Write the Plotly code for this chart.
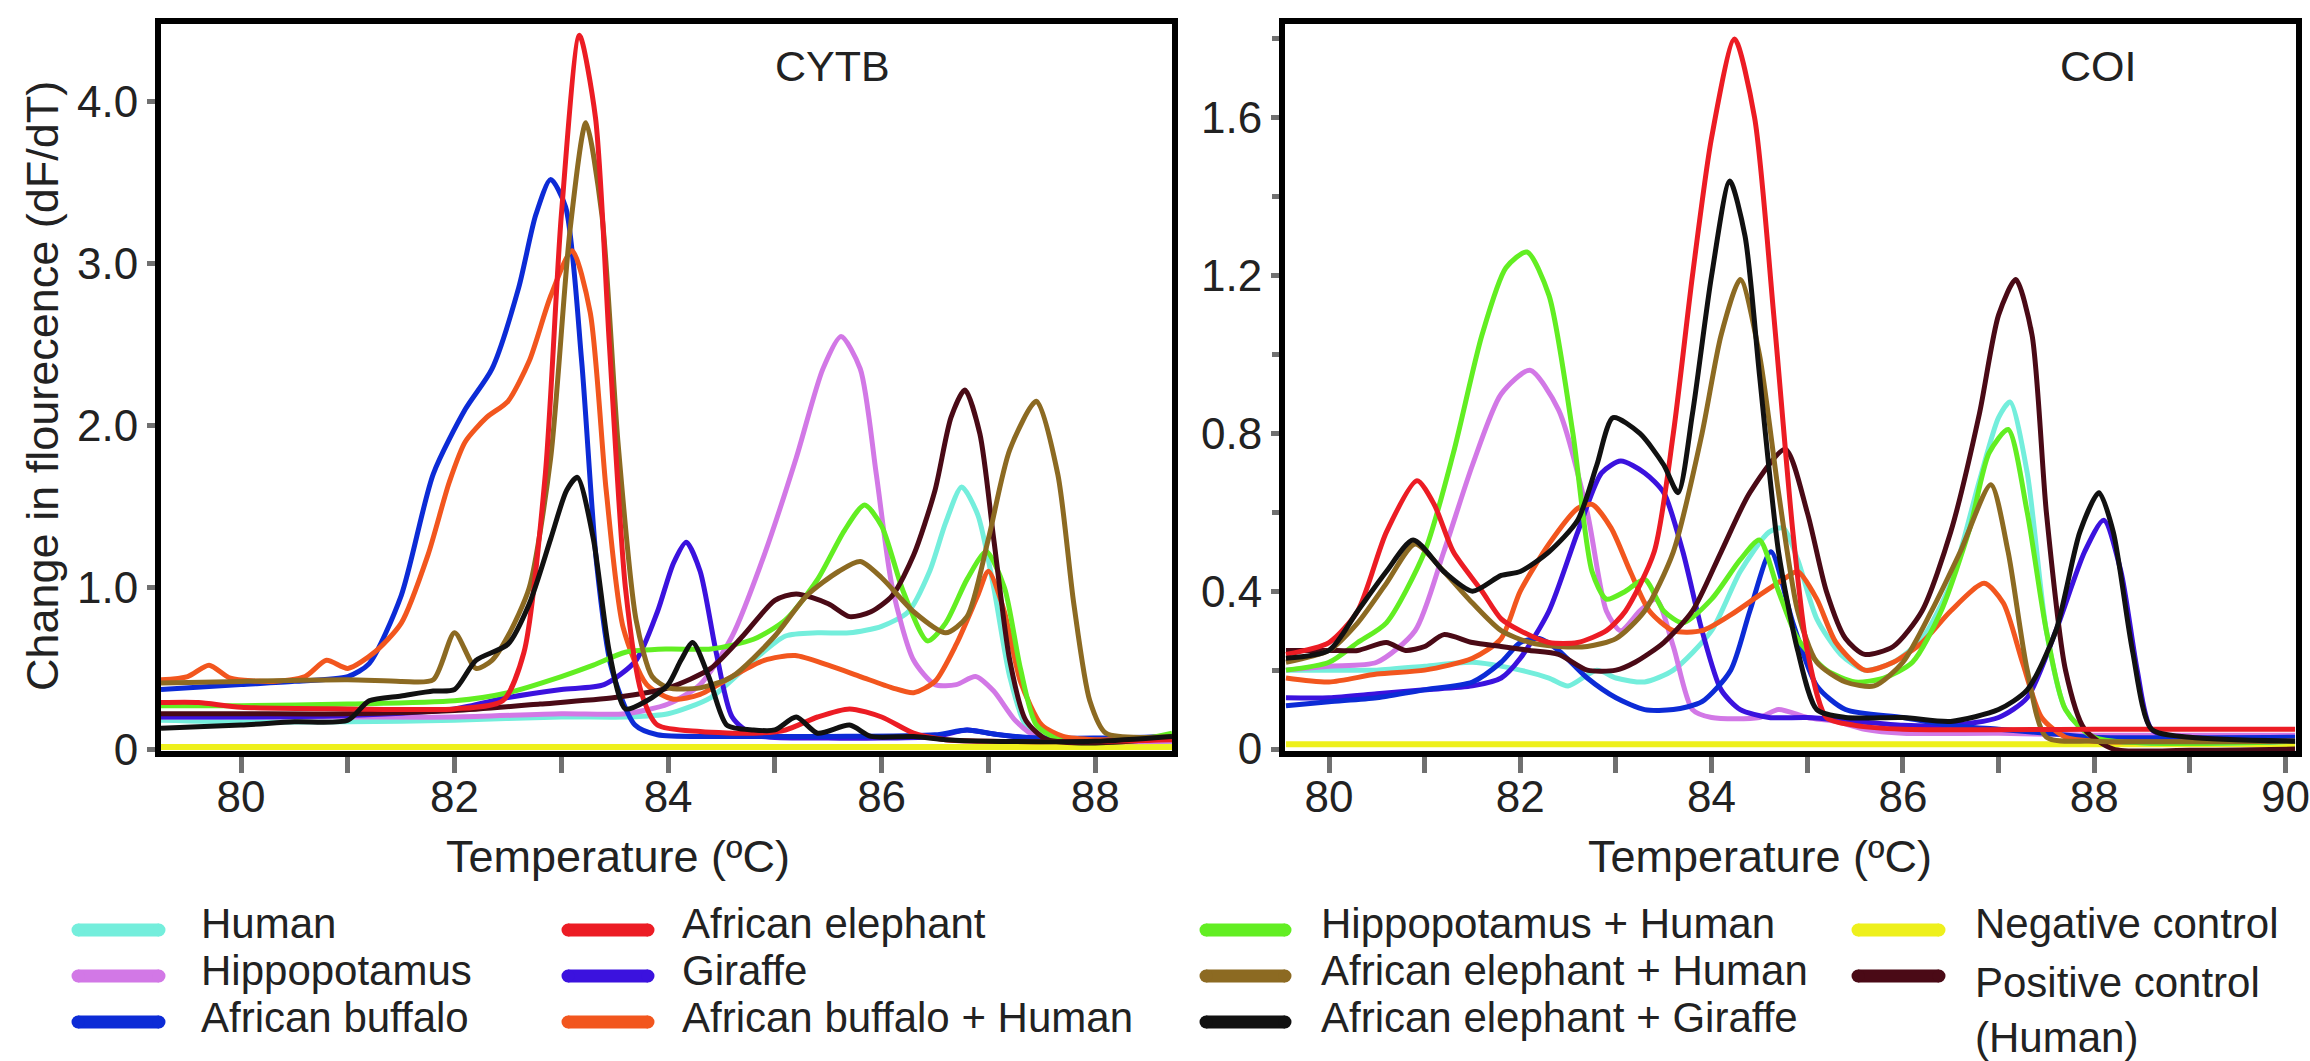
import plotly.graph_objects as go

W, H = 2310, 1061
FONT = "Liberation Sans, Arial, Helvetica, sans-serif"

# ---------------- data ----------------
SERIES = ["Human", "Hippopotamus", "African buffalo", "African elephant", "Giraffe",
          "African buffalo + Human", "Hippopotamus + Human", "African elephant + Human",
          "African elephant + Giraffe", "Negative control", "Positive control<br>(Human)"]
COLORS = ["#74EEDC", "#D278E6", "#0C2BD6", "#EC1C24", "#3B12DE", "#F2561E",
          "#62EE22", "#8C6A22", "#111111", "#EEF01C", "#4A0A16"]

# CYTB panel (temperature, dF/dT)
cytb_human = [(79.25, 0.18), (80, 0.17), (81, 0.17), (82, 0.18), (83, 0.2), (83.6, 0.2), (84, 0.22),
              (84.4, 0.32), (84.8, 0.55), (85.1, 0.7), (85.4, 0.72), (85.7, 0.72), (86.0, 0.76),
              (86.25, 0.85), (86.45, 1.1), (86.6, 1.4), (86.75, 1.62), (86.9, 1.45), (87.05, 1.0),
              (87.2, 0.45), (87.35, 0.15), (87.55, 0.07), (88, 0.05), (88.72, 0.05)]
cytb_hippo = [(79.25, 0.2), (80, 0.2), (81, 0.2), (82, 0.2), (83, 0.22), (83.6, 0.22), (84, 0.28),
              (84.3, 0.4), (84.6, 0.7), (84.9, 1.2), (85.2, 1.8), (85.45, 2.35), (85.62, 2.55),
              (85.8, 2.35), (85.95, 1.7), (86.1, 1.0), (86.3, 0.55), (86.5, 0.4), (86.7, 0.4),
              (86.88, 0.45), (87.05, 0.36), (87.25, 0.18), (87.45, 0.08), (88, 0.05), (88.72, 0.05)]
cytb_buffalo = [(79.25, 0.37), (80, 0.4), (80.5, 0.42), (81, 0.45), (81.2, 0.53), (81.5, 0.95),
                (81.8, 1.7), (82.1, 2.1), (82.35, 2.35), (82.6, 2.85), (82.76, 3.3), (82.9, 3.52),
                (83.04, 3.35), (83.19, 2.4), (83.33, 1.15), (83.47, 0.5), (83.69, 0.15), (83.9, 0.09),
                (84.5, 0.08), (85.5, 0.08), (86.5, 0.09), (86.8, 0.12), (87.1, 0.09), (87.5, 0.07),
                (88, 0.07), (88.72, 0.08)]
cytb_elephant = [(79.25, 0.29), (79.6, 0.29), (80, 0.26), (81, 0.25), (82, 0.25), (82.45, 0.3),
                 (82.65, 0.6), (82.85, 1.7), (83.0, 3.3), (83.17, 4.41), (83.32, 3.9), (83.45, 2.5),
                 (83.6, 1.0), (83.75, 0.35), (83.9, 0.15), (84.3, 0.11), (84.8, 0.1), (85.1, 0.12),
                 (85.4, 0.2), (85.7, 0.25), (86.0, 0.2), (86.3, 0.1), (86.6, 0.06), (87, 0.05),
                 (88, 0.05), (88.72, 0.06)]
cytb_giraffe = [(79.25, 0.2), (80, 0.2), (81, 0.21), (82, 0.25), (82.5, 0.32), (83.0, 0.37),
                (83.4, 0.4), (83.7, 0.55), (83.9, 0.85), (84.05, 1.15), (84.17, 1.28), (84.3, 1.1),
                (84.45, 0.6), (84.6, 0.2), (84.8, 0.09), (85.5, 0.07), (86, 0.07), (86.5, 0.08),
                (86.8, 0.12), (87.0, 0.1), (87.5, 0.06), (88, 0.06), (88.72, 0.08)]
cytb_buff_human = [(79.25, 0.43), (79.5, 0.45), (79.7, 0.52), (79.9, 0.44), (80.3, 0.42), (80.6, 0.45),
                   (80.8, 0.55), (81.0, 0.5), (81.25, 0.6), (81.5, 0.78), (81.75, 1.2), (81.95, 1.65),
                   (82.1, 1.9), (82.3, 2.05), (82.5, 2.15), (82.7, 2.4), (82.9, 2.8), (83.1, 3.08),
                   (83.27, 2.7), (83.42, 1.6), (83.58, 0.75), (83.8, 0.4), (84.05, 0.31), (84.3, 0.34),
                   (84.6, 0.45), (84.9, 0.55), (85.19, 0.58), (85.5, 0.52), (85.8, 0.45), (86.1, 0.38),
                   (86.3, 0.35), (86.5, 0.42), (86.7, 0.65), (86.9, 0.95), (87.0, 1.1), (87.15, 0.85),
                   (87.3, 0.42), (87.5, 0.15), (87.7, 0.08), (88, 0.06), (88.72, 0.07)]
cytb_hippo_human = [(79.25, 0.27), (80, 0.27), (81, 0.28), (82, 0.3), (82.5, 0.35), (83.0, 0.45),
                    (83.3, 0.52), (83.6, 0.6), (84.0, 0.62), (84.4, 0.62), (84.8, 0.68), (85.1, 0.8),
                    (85.4, 1.05), (85.65, 1.35), (85.84, 1.51), (86.0, 1.38), (86.2, 0.98), (86.43, 0.67),
                    (86.6, 0.78), (86.8, 1.05), (86.98, 1.22), (87.15, 1.0), (87.3, 0.5), (87.45, 0.15),
                    (87.7, 0.05), (88.3, 0.05), (88.72, 0.1)]
cytb_eleph_human = [(79.25, 0.41), (80, 0.42), (81, 0.43), (81.5, 0.42), (81.8, 0.43), (82.0, 0.72),
                    (82.2, 0.5), (82.35, 0.55), (82.5, 0.7), (82.7, 1.0), (82.9, 1.8), (83.08, 3.2),
                    (83.23, 3.87), (83.38, 3.3), (83.53, 1.9), (83.7, 0.8), (83.85, 0.45), (84.0, 0.38),
                    (84.3, 0.38), (84.6, 0.45), (85.0, 0.7), (85.3, 0.95), (85.6, 1.1), (85.8, 1.16),
                    (86.0, 1.06), (86.3, 0.85), (86.6, 0.72), (86.8, 0.82), (87.0, 1.3), (87.2, 1.85),
                    (87.45, 2.15), (87.65, 1.7), (87.8, 0.9), (87.95, 0.3), (88.1, 0.1), (88.72, 0.08)]
cytb_eleph_giraffe = [(79.25, 0.13), (80, 0.15), (80.5, 0.17), (81.0, 0.18), (81.2, 0.3), (81.5, 0.33),
                      (81.8, 0.36), (82.0, 0.37), (82.2, 0.55), (82.5, 0.65), (82.7, 0.9), (82.9, 1.3),
                      (83.05, 1.6), (83.15, 1.68), (83.3, 1.3), (83.45, 0.6), (83.6, 0.25), (83.8, 0.3),
                      (84.0, 0.4), (84.12, 0.55), (84.23, 0.66), (84.38, 0.45), (84.55, 0.15), (84.8, 0.12),
                      (85.0, 0.12), (85.2, 0.2), (85.4, 0.1), (85.7, 0.15), (85.9, 0.08), (86.3, 0.08),
                      (86.6, 0.06), (87, 0.05), (88, 0.05), (88.72, 0.08)]
cytb_negative = [(79.25, 0.015), (84.0, 0.015), (88.72, 0.015)]
cytb_positive = [(79.25, 0.22), (80, 0.22), (81, 0.22), (82, 0.24), (82.8, 0.28), (83.5, 0.32),
                 (84.0, 0.38), (84.4, 0.5), (84.7, 0.7), (85.0, 0.92), (85.2, 0.96), (85.5, 0.9),
                 (85.7, 0.82), (85.9, 0.85), (86.1, 0.95), (86.3, 1.2), (86.5, 1.6), (86.65, 2.05),
                 (86.78, 2.22), (86.92, 1.95), (87.05, 1.3), (87.2, 0.55), (87.35, 0.18), (87.55, 0.06),
                 (88, 0.04), (88.72, 0.07)]

# COI panel
coi_human = [(79.55, 0.2), (80, 0.2), (80.5, 0.2), (81, 0.21), (81.5, 0.22), (82.0, 0.2), (82.3, 0.18),
             (82.5, 0.16), (82.8, 0.2), (83.0, 0.18), (83.3, 0.17), (83.6, 0.2), (84.0, 0.3), (84.3, 0.45),
             (84.6, 0.55), (84.75, 0.56), (84.9, 0.48), (85.1, 0.33), (85.35, 0.24), (85.6, 0.2),
             (85.9, 0.22), (86.2, 0.28), (86.5, 0.42), (86.8, 0.68), (87.0, 0.84), (87.12, 0.88),
             (87.3, 0.7), (87.5, 0.3), (87.7, 0.1), (88, 0.03), (90.1, 0.02)]
coi_hippo = [(79.55, 0.2), (80, 0.21), (80.5, 0.22), (80.9, 0.3), (81.2, 0.5), (81.5, 0.72), (81.8, 0.9),
             (82.1, 0.96), (82.4, 0.86), (82.7, 0.6), (82.9, 0.35), (83.05, 0.3), (83.25, 0.35),
             (83.42, 0.38), (83.6, 0.26), (83.8, 0.1), (84.0, 0.08), (84.5, 0.08), (84.7, 0.1),
             (85.0, 0.08), (85.3, 0.07), (85.6, 0.05), (86, 0.04), (87, 0.04), (88, 0.035), (90.1, 0.035)]
coi_buffalo = [(79.55, 0.11), (80, 0.12), (80.5, 0.13), (81, 0.15), (81.5, 0.17), (81.8, 0.22), (82.0, 0.27),
               (82.2, 0.28), (82.4, 0.25), (82.7, 0.18), (83.0, 0.13), (83.3, 0.1), (83.6, 0.1), (83.9, 0.12),
               (84.2, 0.2), (84.4, 0.35), (84.62, 0.5), (84.85, 0.32), (85.1, 0.16), (85.4, 0.1), (86, 0.08),
               (86.5, 0.06), (87, 0.05), (87.5, 0.04), (88, 0.03), (90.1, 0.03)]
coi_elephant = [(79.55, 0.24), (80, 0.27), (80.3, 0.35), (80.6, 0.55), (80.92, 0.68), (81.1, 0.62),
                (81.3, 0.5), (81.6, 0.4), (81.8, 0.33), (82.0, 0.3), (82.3, 0.27), (82.6, 0.27), (82.9, 0.3),
                (83.1, 0.35), (83.4, 0.5), (83.6, 0.8), (83.8, 1.2), (84.0, 1.55), (84.24, 1.8), (84.45, 1.6),
                (84.65, 1.1), (84.85, 0.55), (85.0, 0.25), (85.2, 0.08), (85.5, 0.06), (86, 0.05), (88, 0.05),
                (90.1, 0.05)]
coi_giraffe = [(79.55, 0.13), (80, 0.13), (80.5, 0.14), (81, 0.15), (81.5, 0.16), (81.8, 0.18), (82.0, 0.23),
               (82.3, 0.35), (82.6, 0.55), (82.85, 0.7), (83.05, 0.73), (83.3, 0.7), (83.5, 0.65), (83.7, 0.5),
               (83.9, 0.3), (84.1, 0.15), (84.3, 0.1), (84.6, 0.08), (85, 0.08), (85.5, 0.07), (86, 0.06),
               (86.5, 0.06), (87, 0.08), (87.3, 0.13), (87.6, 0.3), (87.9, 0.5), (88.1, 0.58), (88.28, 0.45),
               (88.45, 0.2), (88.6, 0.05), (89, 0.02), (90.1, 0.02)]
coi_buff_human = [(79.55, 0.18), (80, 0.17), (80.5, 0.19), (81, 0.2), (81.5, 0.23), (81.8, 0.28), (82.0, 0.4),
                  (82.3, 0.52), (82.6, 0.61), (82.75, 0.62), (82.95, 0.56), (83.15, 0.45), (83.35, 0.35),
                  (83.6, 0.3), (83.9, 0.3), (84.2, 0.34), (84.5, 0.39), (84.75, 0.43), (84.9, 0.45),
                  (85.1, 0.38), (85.3, 0.27), (85.6, 0.2), (85.9, 0.22), (86.2, 0.27), (86.5, 0.35),
                  (86.85, 0.42), (87.05, 0.37), (87.25, 0.22), (87.45, 0.08), (87.7, 0.03), (88, 0.02),
                  (90.1, 0.02)]
coi_hippo_human = [(79.55, 0.2), (80, 0.22), (80.3, 0.27), (80.6, 0.32), (81.0, 0.5), (81.3, 0.75),
                   (81.6, 1.05), (81.85, 1.22), (82.07, 1.26), (82.3, 1.15), (82.55, 0.8), (82.75, 0.45),
                   (82.9, 0.38), (83.1, 0.4), (83.3, 0.43), (83.5, 0.35), (83.7, 0.32), (84.0, 0.38),
                   (84.3, 0.48), (84.5, 0.53), (84.7, 0.4), (84.9, 0.28), (85.2, 0.2), (85.5, 0.17),
                   (85.8, 0.18), (86.1, 0.22), (86.4, 0.35), (86.7, 0.56), (86.9, 0.75), (87.1, 0.81),
                   (87.3, 0.6), (87.5, 0.3), (87.7, 0.1), (88, 0.03), (90.1, 0.02)]
coi_eleph_human = [(79.55, 0.22), (80, 0.25), (80.3, 0.32), (80.6, 0.42), (80.9, 0.52), (81.2, 0.45),
                   (81.5, 0.37), (81.8, 0.3), (82.1, 0.27), (82.4, 0.26), (82.7, 0.26), (83.0, 0.28),
                   (83.3, 0.35), (83.6, 0.5), (83.9, 0.8), (84.1, 1.05), (84.3, 1.19), (84.5, 1.0),
                   (84.7, 0.65), (84.9, 0.35), (85.1, 0.22), (85.4, 0.17), (85.7, 0.16), (86.0, 0.22),
                   (86.3, 0.35), (86.6, 0.5), (86.92, 0.67), (87.1, 0.5), (87.3, 0.2), (87.5, 0.03),
                   (88, 0.02), (90.1, 0.02)]
coi_eleph_giraffe = [(79.55, 0.23), (80, 0.25), (80.3, 0.35), (80.6, 0.45), (80.88, 0.53), (81.2, 0.45),
                     (81.5, 0.4), (81.8, 0.44), (82.0, 0.45), (82.3, 0.5), (82.6, 0.58), (82.8, 0.72),
                     (82.97, 0.84), (83.25, 0.8), (83.5, 0.72), (83.65, 0.65), (83.8, 0.85), (84.0, 1.2),
                     (84.19, 1.44), (84.35, 1.3), (84.5, 0.95), (84.7, 0.5), (84.9, 0.25), (85.1, 0.1),
                     (85.4, 0.08), (86, 0.08), (86.5, 0.07), (87, 0.1), (87.3, 0.15), (87.6, 0.3),
                     (87.85, 0.55), (88.05, 0.65), (88.2, 0.55), (88.4, 0.25), (88.6, 0.05), (89, 0.03),
                     (90.1, 0.02)]
coi_negative = [(79.55, 0.012), (85.0, 0.012), (90.1, 0.012)]
coi_positive = [(79.55, 0.25), (80, 0.25), (80.3, 0.25), (80.6, 0.27), (80.8, 0.25), (81.0, 0.26),
                (81.2, 0.29), (81.5, 0.27), (81.8, 0.26), (82.1, 0.25), (82.4, 0.24), (82.7, 0.2),
                (83.0, 0.2), (83.2, 0.22), (83.5, 0.27), (83.8, 0.35), (84.1, 0.5), (84.4, 0.65),
                (84.77, 0.76), (85.0, 0.6), (85.2, 0.4), (85.4, 0.28), (85.6, 0.24), (85.9, 0.26),
                (86.2, 0.35), (86.5, 0.55), (86.8, 0.85), (87.0, 1.1), (87.18, 1.19), (87.35, 1.05),
                (87.5, 0.6), (87.7, 0.2), (87.9, 0.05), (88.2, 0.0), (89, -0.003), (90.1, 0.0)]

CYTB = [cytb_human, cytb_hippo, cytb_buffalo, cytb_elephant, cytb_giraffe, cytb_buff_human,
        cytb_hippo_human, cytb_eleph_human, cytb_eleph_giraffe, cytb_negative, cytb_positive]
COI = [coi_human, coi_hippo, coi_buffalo, coi_elephant, coi_giraffe, coi_buff_human,
       coi_hippo_human, coi_eleph_human, coi_eleph_giraffe, coi_negative, coi_positive]

CYTB_YTICKS = [0, 1.0, 2.0, 3.0, 4.0]
CYTB_YLABELS = ["0", "1.0", "2.0", "3.0", "4.0"]
COI_YTICKS = [0, 0.4, 0.8, 1.2, 1.6]
COI_YLABELS = ["0", "0.4", "0.8", "1.2", "1.6"]
CYTB_XTICKS = [80, 82, 84, 86, 88]
COI_XTICKS = [80, 82, 84, 86, 88, 90]

# draw order (first = bottom)
DRAW_ORDER = [9, 0, 1, 4, 2, 5, 6, 10, 7, 3, 8]

# ---------------- figure ----------------
fig = go.Figure()

def px_x(p):
    return p / W

def px_y(p):
    return 1 - p / H

for panel, (data, xa, ya) in enumerate([(CYTB, "x", "y"), (COI, "x2", "y2")]):
    for i in DRAW_ORDER:
        pts = data[i]
        fig.add_trace(go.Scatter(
            x=[p[0] for p in pts], y=[p[1] for p in pts],
            mode="lines", name=SERIES[i].replace("<br>", " "),
            line=dict(color=COLORS[i], width=5 if i != 9 else 6, shape="spline", smoothing=0.7),
            xaxis=xa, yaxis=ya, showlegend=False, hoverinfo="skip"))

tickfont = dict(family=FONT, size=44, color="#222222")
common_axis = dict(showline=True, linewidth=6, linecolor="black", mirror=True,
                   showgrid=False, zeroline=False, automargin=False, tickfont=tickfont,
                   ticks="outside", tickcolor="#707070")

fig.update_layout(
    width=W, height=H, template="none",
    margin=dict(l=0, r=0, t=0, b=0, pad=0),
    paper_bgcolor="white", plot_bgcolor="white",
    font=dict(family=FONT, size=44, color="#222222"),
    showlegend=False,
    xaxis=dict(domain=[px_x(161), px_x(1172)], range=[79.25, 88.72], anchor="y",
               tickvals=CYTB_XTICKS, ticklen=16, tickwidth=5, ticklabelstandoff=-14,
               minor=dict(dtick=1, tick0=79, ticklen=16, tickwidth=5, tickcolor="#707070", ticks="outside"),
               **common_axis),
    yaxis=dict(domain=[px_y(751), px_y(24)], range=[-0.01, 4.48], anchor="x",
               tickvals=CYTB_YTICKS, ticktext=CYTB_YLABELS, ticklen=8, tickwidth=5,
               **common_axis),
    xaxis2=dict(domain=[px_x(1285), px_x(2296)], range=[79.54, 90.11], anchor="y2",
                tickvals=COI_XTICKS, ticklen=16, tickwidth=5, ticklabelstandoff=-14,
                minor=dict(dtick=1, tick0=79, ticklen=16, tickwidth=5, tickcolor="#707070", ticks="outside"),
                **common_axis),
    yaxis2=dict(domain=[px_y(751), px_y(24)], range=[-0.005, 1.838], anchor="x2",
                tickvals=COI_YTICKS, ticktext=COI_YLABELS, ticklen=8, tickwidth=5,
                minor=dict(dtick=0.2, tick0=0, ticklen=7, tickwidth=5, tickcolor="#707070", ticks="outside"),
                **common_axis),
)

annotations = []
def text(x, y, s, size=44, xanchor="center", yanchor="middle", angle=0, align="left"):
    annotations.append(dict(x=px_x(x), y=px_y(y), xref="paper", yref="paper", text=s,
                            showarrow=False, xanchor=xanchor, yanchor=yanchor, textangle=angle,
                            align=align, font=dict(family=FONT, size=size, color="#222222")))

# panel labels and axis titles
text(832, 66, "CYTB", size=43)
text(2098, 66, "COI", size=43)
text(618, 856, "Temperature (ºC)", size=45)
text(1760, 856, "Temperature (ºC)", size=45)
text(42, 386, "Change in flourecence (dF/dT)", size=45, angle=-90)

# legend (4 columns, drawn with shapes + text)
shapes = []
LEG_COLS = [(72, 165, 199), (562, 654, 680), (1200, 1291, 1319), (1852, 1945, 1973)]
LEG_ROWS_SWATCH = [930, 976, 1022]
LEG_ROWS_TEXT = [923, 970, 1017]
LEG_ORDER = [[0, 1, 2], [3, 4, 5], [6, 7, 8], [9, 10]]
for c, idxs in enumerate(LEG_ORDER):
    x0, x1, xt = LEG_COLS[c]
    for r, i in enumerate(idxs):
        ys = LEG_ROWS_SWATCH[r]
        shapes.append(dict(type="line", xref="paper", yref="paper",
                           x0=px_x(x0 + 6), x1=px_x(x1 - 6), y0=px_y(ys), y1=px_y(ys),
                           line=dict(color=COLORS[i], width=13)))
        for xe in (x0 + 6, x1 - 6):
            shapes.append(dict(type="circle", xref="paper", yref="paper",
                               xsizemode="pixel", ysizemode="pixel",
                               xanchor=px_x(xe), yanchor=px_y(ys),
                               x0=-6.5, x1=6.5, y0=-6.5, y1=6.5,
                               fillcolor=COLORS[i], line=dict(width=0)))
        if "<br>" in SERIES[i]:
            text(xt, LEG_ROWS_TEXT[r] - 13, SERIES[i], size=42, xanchor="left", yanchor="top")
        else:
            text(xt, LEG_ROWS_TEXT[r], SERIES[i], size=42, xanchor="left")

fig.update_layout(annotations=annotations, shapes=shapes)

fig.write_html("out.html", config={"displayModeBar": False},
               post_script="document.body.style.margin='0';document.body.style.overflow='hidden';")
